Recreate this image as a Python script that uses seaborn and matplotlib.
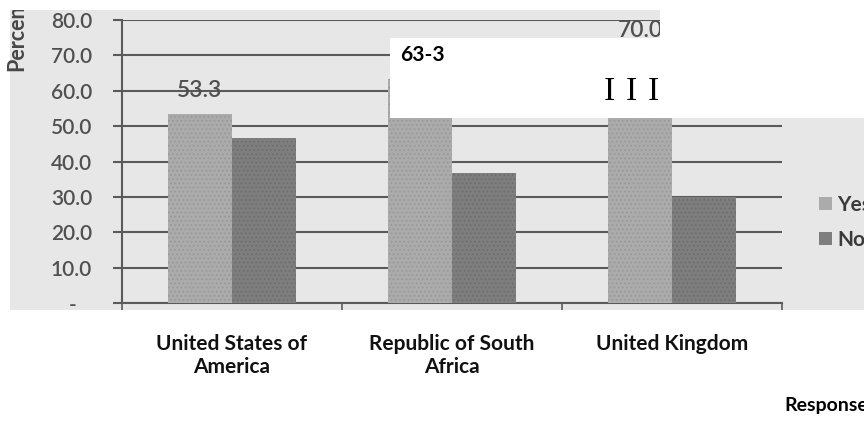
import matplotlib
matplotlib.use("Agg")
import matplotlib.pyplot as plt
from matplotlib.patches import Rectangle
import pandas as pd
import seaborn as sns

# Survey results: share of respondents answering Yes / No, by country
countries = ["United States of\nAmerica", "Republic of South\nAfrica", "United Kingdom"]
responses = ["Yes", "No"]
yes_pct = [53.3, 63.3, 70.0]
no_pct = [46.7, 36.7, 30.0]
y_ticks = [0, 10, 20, 30, 40, 50, 60, 70, 80]
y_tick_labels = ["-   ", "10.0", "20.0", "30.0", "40.0", "50.0", "60.0", "70.0", "80.0"]
corrected_label = "63-3"   # hand-typed replacement for the South Africa value

df = pd.DataFrame({
    "Country": countries * 2,
    "Response": ["Yes"] * len(countries) + ["No"] * len(countries),
    "Percent": yes_pct + no_pct,
})

sns.set_theme(style="white")
plt.rcParams["font.family"] = ["Lato", "DejaVu Sans"]
plt.rcParams["hatch.linewidth"] = 0.7

W, H = 864, 434
fig = plt.figure(figsize=(W / 100, H / 100), dpi=100)
fig.patch.set_facecolor("white")


def fx(px):
    return px / W


def fy(py):
    return 1 - py / H


def box(x0, y0, x1, y1, color, z):
    fig.add_artist(Rectangle((fx(x0), fy(y1)), (x1 - x0) / W, (y1 - y0) / H,
                             transform=fig.transFigure, facecolor=color,
                             edgecolor="none", zorder=z))


# grey paper of the scanned chart
box(10, 10, W, 310, "#e7e7e7", -2)

grid_c = "#5a5a5a"
text_c = "#505050"

ax = fig.add_axes([fx(122), fy(303), 660 / W, 283 / H])
ax.set_facecolor("none")
sns.barplot(data=df, x="Country", y="Percent", hue="Response",
            hue_order=responses, palette={"Yes": "#ababab", "No": "#7e7e7e"},
            width=0.582, gap=0, ax=ax, zorder=3, linewidth=0, saturation=1)

hatch_edges = {"Yes": "#979797", "No": "#6c6c6c"}
for cont, resp in zip(ax.containers, responses):
    for bar in cont:
        bar.set_hatch("....")
        bar.set_edgecolor(hatch_edges[resp])
        bar.set_linewidth(0)

# value labels on the Yes bars; the South Africa one is re-typed further down
yes_labels = [f"{v:.1f}" for v in yes_pct]
yes_labels[1] = ""
ax.bar_label(ax.containers[0], labels=yes_labels, padding=10,
             fontsize=16.5, fontweight=600, color=text_c, zorder=4)

ax.set_ylim(0, 80)
ax.set_xlim(-0.5, len(countries) - 0.5)
ax.set_yticks(y_ticks, y_tick_labels)
ax.yaxis.grid(True, color=grid_c, linewidth=1.5)
ax.set_axisbelow(True)
ax.tick_params(axis="y", length=6.5, width=1.5, color=grid_c, pad=15,
               labelsize=15, labelcolor=text_c, left=True)
for lab in ax.get_yticklabels():
    lab.set_fontweight(600)
ax.set_xticks(range(len(countries)), countries)
ax.set_xticks([i - 0.5 for i in range(len(countries) + 1)], minor=True)
ax.tick_params(axis="x", which="major", length=0, pad=22, labelsize=15)
ax.tick_params(axis="x", which="minor", length=5, width=1.2, color=grid_c,
               direction="out", bottom=True)
for lab in ax.get_xticklabels():
    lab.set_fontweight("bold")
    lab.set_color("#111111")
    lab.set_linespacing(1.22)
ax.set_xlabel("")
ax.set_ylabel("")
for side in ("top", "right"):
    ax.spines[side].set_visible(False)
for side in ("left", "bottom"):
    ax.spines[side].set_color(grid_c)
    ax.spines[side].set_linewidth(1.5)

handles, labels = ax.get_legend_handles_labels()
ax.legend(handles, labels, loc="upper left", bbox_to_anchor=(fx(819), fy(195)),
          bbox_transform=fig.transFigure, frameon=False, borderpad=0,
          borderaxespad=0, handlelength=0.62, handleheight=0.62,
          handletextpad=0.25, labelspacing=0.72,
          prop={"weight": "bold", "size": 15}, labelcolor="#3a3a3a")

fig.text(fx(17), fy(71), "Percentage", rotation=90, ha="center", va="bottom",
         fontsize=15.5, fontweight="bold", color="#474747", zorder=1)

# white paste-over patches
box(0, 0, W, 10, "white", 5)
box(390, 38, W, 118, "white", 5)
box(660, 0, W, 38, "white", 5)

fig.text(fx(400), fy(55), corrected_label, ha="left", va="center",
         fontsize=15, fontweight="bold", color="black", zorder=6)
for px in (609, 631, 653):
    fig.text(fx(px), fy(92), "I", ha="center", va="center", fontsize=24,
             family=["Liberation Serif", "DejaVu Serif"], color="black", zorder=6)

fig.text(fx(784), fy(405), "Response", ha="left", va="center", fontsize=14,
         fontweight="bold", color="black")

fig.savefig("out.png", dpi=100)
